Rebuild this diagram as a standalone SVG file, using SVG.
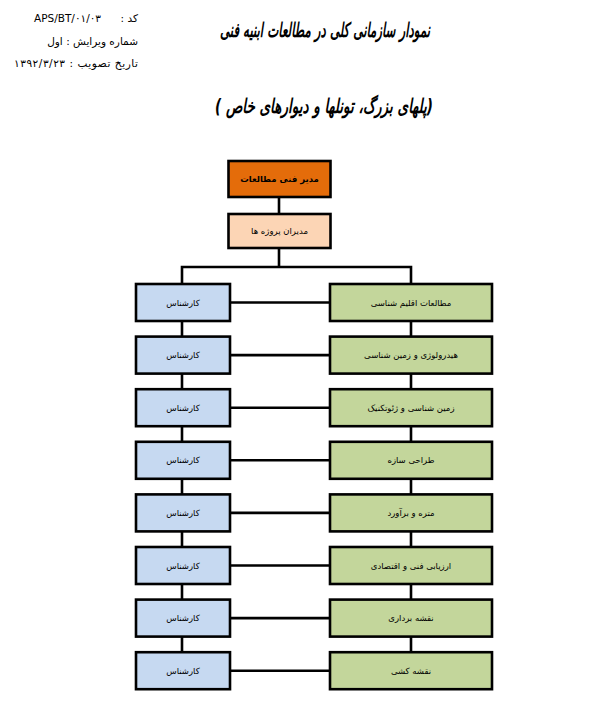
<svg xmlns="http://www.w3.org/2000/svg" width="603" height="728" viewBox="0 0 603 728">
<style>
  .box { stroke:#000; stroke-width:2.6; }
  .orange { fill:#E46C0A; }
  .peach { fill:#FCD5B5; }
  .blue { fill:#C6D9F1; }
  .green { fill:#C3D69B; }
  .lbl { font-family:"DejaVu Sans","Noto Sans",sans-serif; font-size:8.5px; fill:#000; text-anchor:middle; direction:rtl; }
  .hdr { font-family:"DejaVu Sans","Noto Sans",sans-serif; font-size:10.5px; fill:#000; direction:rtl; text-anchor:start; }
  .title { font-family:"DejaVu Sans","Noto Sans",sans-serif; font-weight:bold; font-style:italic; font-size:20px; fill:#000; text-anchor:middle; direction:rtl; }
  .conn { stroke:#000; stroke-width:2.6; fill:none; }
</style>
<rect width="603" height="728" fill="#fff"/>
<g id="header">
  <text class="hdr" x="138" y="22">کد :</text>
  <text class="hdr" x="101" y="22" direction="ltr" style="direction:ltr;text-anchor:end">APS/BT/۰۱/۰۳</text>
  <text class="hdr" x="138" y="45">شماره ویرایش : اول</text>
  <text class="hdr" x="138" y="67" textLength="124" lengthAdjust="spacing">تاریخ تصویب : ۱۳۹۲/۳/۲۳</text>
</g>
<g id="titles">
  <text class="title" x="325" y="37" textLength="210" lengthAdjust="spacingAndGlyphs">نمودار سازمانی کلی در مطالعات ابنیه فنی</text>
  <text class="title" x="324" y="113" textLength="218" lengthAdjust="spacingAndGlyphs">(پلهای بزرگ، تونلها و دیوارهای خاص )</text>
</g>
<g id="connectors">
  <line class="conn" x1="279" y1="197" x2="279" y2="214"/>
  <line class="conn" x1="279" y1="248" x2="279" y2="267"/>
  <polyline class="conn" points="182,284 182,267 411,267 411,284"/>
  <line class="conn" x1="182" y1="321" x2="182" y2="652"/>
  <line class="conn" x1="411" y1="321" x2="411" y2="652"/>
  <line class="conn" x1="230" y1="302.5" x2="330" y2="302.5"/>
  <line class="conn" x1="230" y1="355.1" x2="330" y2="355.1"/>
  <line class="conn" x1="230" y1="407.7" x2="330" y2="407.7"/>
  <line class="conn" x1="230" y1="460.3" x2="330" y2="460.3"/>
  <line class="conn" x1="230" y1="512.9" x2="330" y2="512.9"/>
  <line class="conn" x1="230" y1="565.5" x2="330" y2="565.5"/>
  <line class="conn" x1="230" y1="618.1" x2="330" y2="618.1"/>
  <line class="conn" x1="230" y1="670.7" x2="330" y2="670.7"/>
</g>
<g id="n-director"><rect class="box orange" x="228.5" y="161" width="102" height="36"/><text class="lbl" x="279.5" y="182" font-weight="bold">مدیر فنی مطالعات</text></g>
<g id="n-pm"><rect class="box peach" x="228.5" y="214" width="102" height="34"/><text class="lbl" x="279.5" y="234">مدیران پروژه ها</text></g>

<g id="n-g1"><rect class="box green" x="330" y="284" width="162" height="37"/><text class="lbl" x="411" y="305.5">مطالعات اقلیم شناسی</text></g>
<g id="n-g2"><rect class="box green" x="330" y="336.6" width="162" height="37"/><text class="lbl" x="411" y="358.1">هیدرولوژی و زمین شناسی</text></g>
<g id="n-g3"><rect class="box green" x="330" y="389.2" width="162" height="37"/><text class="lbl" x="411" y="410.7">زمین شناسی و ژئوتکنیک</text></g>
<g id="n-g4"><rect class="box green" x="330" y="441.8" width="162" height="37"/><text class="lbl" x="411" y="463.3">طراحی سازه</text></g>
<g id="n-g5"><rect class="box green" x="330" y="494.4" width="162" height="37"/><text class="lbl" x="411" y="515.9">متره و برآورد</text></g>
<g id="n-g6"><rect class="box green" x="330" y="547" width="162" height="37"/><text class="lbl" x="411" y="568.5">ارزیابی فنی و اقتصادی</text></g>
<g id="n-g7"><rect class="box green" x="330" y="599.6" width="162" height="37"/><text class="lbl" x="411" y="621.1">نقشه برداری</text></g>
<g id="n-g8"><rect class="box green" x="330" y="652.2" width="162" height="37"/><text class="lbl" x="411" y="673.7">نقشه کشی</text></g>

<g id="n-b1"><rect class="box blue" x="136" y="284" width="94" height="37"/><text class="lbl" x="183" y="305.5">کارشناس</text></g>
<g id="n-b2"><rect class="box blue" x="136" y="336.6" width="94" height="37"/><text class="lbl" x="183" y="358.1">کارشناس</text></g>
<g id="n-b3"><rect class="box blue" x="136" y="389.2" width="94" height="37"/><text class="lbl" x="183" y="410.7">کارشناس</text></g>
<g id="n-b4"><rect class="box blue" x="136" y="441.8" width="94" height="37"/><text class="lbl" x="183" y="463.3">کارشناس</text></g>
<g id="n-b5"><rect class="box blue" x="136" y="494.4" width="94" height="37"/><text class="lbl" x="183" y="515.9">کارشناس</text></g>
<g id="n-b6"><rect class="box blue" x="136" y="547" width="94" height="37"/><text class="lbl" x="183" y="568.5">کارشناس</text></g>
<g id="n-b7"><rect class="box blue" x="136" y="599.6" width="94" height="37"/><text class="lbl" x="183" y="621.1">کارشناس</text></g>
<g id="n-b8"><rect class="box blue" x="136" y="652.2" width="94" height="37"/><text class="lbl" x="183" y="673.7">کارشناس</text></g>
</svg>
